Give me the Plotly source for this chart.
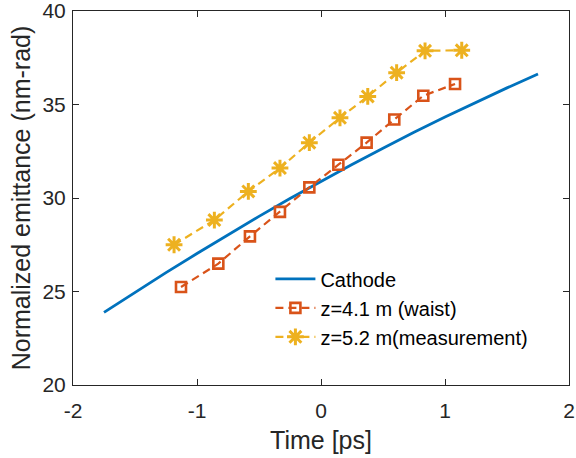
import plotly.graph_objects as go

# Cathode curve
cathode_t = [-1.75, -1.5, -1.25, -1.0, -0.75, -0.5, -0.25, 0.0, 0.25, 0.5, 0.75, 1.0, 1.25, 1.5, 1.75]
cathode_e = [23.88, 24.96, 26.01, 27.03, 28.04, 29.02, 29.97, 30.89, 31.79, 32.66, 33.52, 34.33, 35.13, 35.89, 36.63]

# z=4.1 m (waist)
waist_t = [-1.129, -0.828, -0.573, -0.331, -0.094, 0.14, 0.368, 0.591, 0.825, 1.081]
waist_e = [25.24, 26.49, 27.95, 29.26, 30.57, 31.78, 32.96, 34.20, 35.47, 36.10]

# z=5.2 m (measurement)
meas_t = [-1.185, -0.86, -0.586, -0.331, -0.094, 0.153, 0.377, 0.61, 0.839, 1.135]
meas_e = [27.50, 28.82, 30.35, 31.60, 32.96, 34.29, 35.43, 36.70, 37.87, 37.90]

x_ticks = [-2, -1, 0, 1, 2]
y_ticks = [20, 25, 30, 35, 40]

FONT = "Liberation Sans, Arial, sans-serif"
AX = "#262626"

fig = go.Figure()
fig.add_trace(go.Scatter(x=cathode_t, y=cathode_e, mode="lines", name="Cathode",
                         line=dict(color="#0072BD", width=2.8)))
fig.add_trace(go.Scatter(x=waist_t, y=waist_e, mode="lines+markers", name="z=4.1 m (waist)",
                         line=dict(color="#D95319", width=2.2, dash="8px,5px"),
                         marker=dict(symbol="square-open", size=10, color="#D95319",
                                     line=dict(width=2.6, color="#D95319"))))
fig.add_trace(go.Scatter(x=meas_t, y=meas_e, mode="lines+markers", name="z=5.2 m(measurement)",
                         line=dict(color="#EDB120", width=2.2, dash="8px,5px"),
                         marker=dict(symbol="asterisk-open", size=14, color="#EDB120",
                                     line=dict(width=3, color="#EDB120"))))

axis_common = dict(showline=True, linecolor=AX, linewidth=1, mirror="ticks",
                   ticks="inside", ticklen=6, tickcolor=AX, tickwidth=1,
                   showgrid=False, zeroline=False, automargin=False,
                   ticklabeloverflow="allow",
                   tickfont=dict(family=FONT, size=21, color=AX))

fig.update_xaxes(range=[-2, 2], tickvals=x_ticks, ticktext=[str(v) for v in x_ticks],
                 ticklabelstandoff=7,
                 title=dict(text="Time [ps]", font=dict(family=FONT, size=25, color=AX), standoff=10),
                 **axis_common)
fig.update_yaxes(range=[20, 40], tickvals=y_ticks, ticktext=[str(v) for v in y_ticks],
                 ticklabelstandoff=2,
                 title=dict(text="Normalized emittance (nm-rad)", font=dict(family=FONT, size=25, color=AX), standoff=4),
                 **axis_common)

fig.update_layout(
    width=576, height=458,
    margin=dict(l=73, r=7, t=11, b=73),
    paper_bgcolor="white", plot_bgcolor="white",
    font=dict(family=FONT, color=AX),
    showlegend=True,
    legend=dict(x=0.398, y=0.336, xanchor="left", yanchor="top",
                bgcolor="rgba(0,0,0,0)", borderwidth=0,
                font=dict(family=FONT, size=20, color="#000000"),
                tracegroupgap=0, itemwidth=40),
)

fig.write_html("out.html", config={"displayModeBar": False},
               post_script="document.body.style.margin='0';document.body.style.overflow='hidden';")
